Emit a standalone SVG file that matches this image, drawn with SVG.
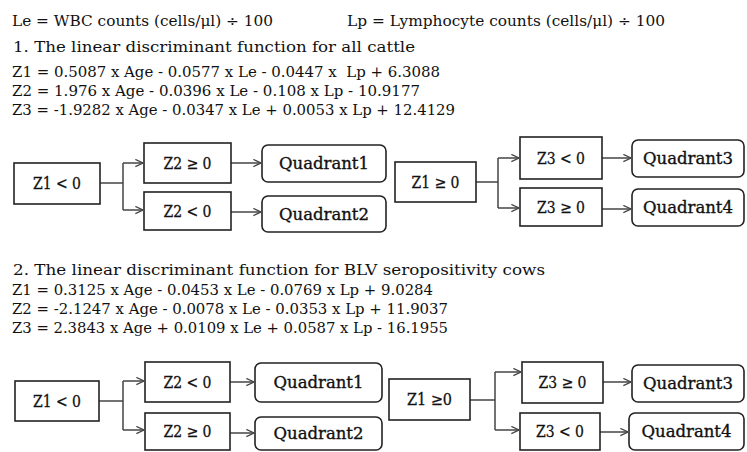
<svg xmlns="http://www.w3.org/2000/svg" width="747" height="452" viewBox="0 0 747 452">
<defs>
<marker id="arr" viewBox="0 0 10 10" refX="9.5" refY="5" markerWidth="9" markerHeight="9" markerUnits="userSpaceOnUse" orient="auto">
<path d="M1,1 L9.5,5 L1,9" fill="none" stroke="#444" stroke-width="1.4"/>
</marker>
</defs>
<style>
.t{font-family:"DejaVu Serif","Liberation Serif",serif;font-size:14.5px;fill:#111;white-space:pre}
.b{fill:#fff;stroke:#222;stroke-width:1.6}
.bl{font-family:"DejaVu Serif","Liberation Serif",serif;font-size:16px;fill:#111;stroke:#111;stroke-width:0.35;text-anchor:middle}
.z{font-family:"DejaVu Serif","Liberation Serif",serif;font-size:16px;fill:#111;stroke:#111;stroke-width:0.3;text-anchor:middle}
.c{fill:none;stroke:#444;stroke-width:1.5}
.a{fill:none;stroke:#444;stroke-width:1.5;marker-end:url(#arr)}
</style>
<rect width="747" height="452" fill="#fff"/>
<g id="texts">
<text class="t" x="12" y="26" textLength="261" lengthAdjust="spacingAndGlyphs">Le = WBC counts (cells/μl) ÷ 100</text>
<text class="t" x="347" y="26" textLength="318" lengthAdjust="spacingAndGlyphs">Lp = Lymphocyte counts (cells/μl) ÷ 100</text>
<text class="t" x="13" y="52" textLength="402" lengthAdjust="spacingAndGlyphs">1. The linear discriminant function for all cattle</text>
<text class="t" x="12" y="77" textLength="428" lengthAdjust="spacingAndGlyphs">Z1 = 0.5087 x Age - 0.0577 x Le - 0.0447 x  Lp + 6.3088</text>
<text class="t" x="12" y="96" textLength="408" lengthAdjust="spacingAndGlyphs">Z2 = 1.976 x Age - 0.0396 x Le - 0.108 x Lp - 10.9177</text>
<text class="t" x="12" y="115" textLength="443" lengthAdjust="spacingAndGlyphs">Z3 = -1.9282 x Age - 0.0347 x Le + 0.0053 x Lp + 12.4129</text>
<text class="t" x="13" y="275" textLength="532" lengthAdjust="spacingAndGlyphs">2. The linear discriminant function for BLV seropositivity cows</text>
<text class="t" x="12" y="295" textLength="421" lengthAdjust="spacingAndGlyphs">Z1 = 0.3125 x Age - 0.0453 x Le - 0.0769 x Lp + 9.0284</text>
<text class="t" x="12" y="314" textLength="436" lengthAdjust="spacingAndGlyphs">Z2 = -2.1247 x Age - 0.0078 x Le - 0.0353 x Lp + 11.9037</text>
<text class="t" x="12" y="333" textLength="436" lengthAdjust="spacingAndGlyphs">Z3 = 2.3843 x Age + 0.0109 x Le + 0.0587 x Lp - 16.1955</text>
</g>
<g id="connectors">
<path class="c" d="M100,183 H123 M123,163 V210"/>
<path class="a" d="M123,163 H143"/>
<path class="a" d="M123,210 H143"/>
<path class="a" d="M231,163 H261"/>
<path class="a" d="M231,212 H261"/>
<path class="c" d="M476,182 H498 M498,158 V208"/>
<path class="a" d="M498,158 H519"/>
<path class="a" d="M498,208 H519"/>
<path class="a" d="M602,158 H631"/>
<path class="a" d="M602,209 H631"/>
<path class="c" d="M99,401 H123 M123,381 V430"/>
<path class="a" d="M123,381 H144"/>
<path class="a" d="M123,430 H144"/>
<path class="a" d="M230,382 H254"/>
<path class="a" d="M230,433 H254"/>
<path class="c" d="M470,400 H495 M495,372 V430"/>
<path class="a" d="M495,372 H521"/>
<path class="a" d="M495,430 H519"/>
<path class="a" d="M603,382 H631"/>
<path class="a" d="M600,432 H628"/>
</g>
<g id="t_z1neg"><rect class="b" x="14" y="163" width="86" height="41"/><text class="z" x="57" y="189" textLength="48" lengthAdjust="spacingAndGlyphs">Z1 &lt; 0</text></g>
<g id="t_z2pos"><rect class="b" x="144" y="143" width="87" height="40"/><text class="z" x="187.5" y="169" textLength="48" lengthAdjust="spacingAndGlyphs">Z2 ≥ 0</text></g>
<g id="t_z2neg"><rect class="b" x="144" y="192" width="87" height="38"/><text class="z" x="187.5" y="217" textLength="48" lengthAdjust="spacingAndGlyphs">Z2 &lt; 0</text></g>
<g id="t_q1"><rect class="b" x="262" y="145" width="124" height="37" rx="6"/><text class="bl" x="324" y="169" textLength="90" lengthAdjust="spacingAndGlyphs">Quadrant1</text></g>
<g id="t_q2"><rect class="b" x="262" y="196" width="124" height="36" rx="6"/><text class="bl" x="324" y="220" textLength="90" lengthAdjust="spacingAndGlyphs">Quadrant2</text></g>
<g id="t_z1pos"><rect class="b" x="395" y="162" width="81" height="40"/><text class="z" x="435.5" y="188" textLength="48" lengthAdjust="spacingAndGlyphs">Z1 ≥ 0</text></g>
<g id="t_z3neg"><rect class="b" x="520" y="137" width="82" height="42"/><text class="z" x="561" y="164" textLength="48" lengthAdjust="spacingAndGlyphs">Z3 &lt; 0</text></g>
<g id="t_z3pos"><rect class="b" x="520" y="188" width="82" height="38"/><text class="z" x="561" y="213" textLength="48" lengthAdjust="spacingAndGlyphs">Z3 ≥ 0</text></g>
<g id="t_q3"><rect class="b" x="632" y="140" width="112" height="37" rx="6"/><text class="bl" x="688" y="164" textLength="90" lengthAdjust="spacingAndGlyphs">Quadrant3</text></g>
<g id="t_q4"><rect class="b" x="632" y="189" width="112" height="37" rx="6"/><text class="bl" x="688" y="213" textLength="90" lengthAdjust="spacingAndGlyphs">Quadrant4</text></g>
<g id="b_z1neg"><rect class="b" x="15" y="381" width="84" height="40"/><text class="z" x="57" y="407" textLength="48" lengthAdjust="spacingAndGlyphs">Z1 &lt; 0</text></g>
<g id="b_z2neg"><rect class="b" x="145" y="362" width="85" height="40"/><text class="z" x="187.5" y="388" textLength="48" lengthAdjust="spacingAndGlyphs">Z2 &lt; 0</text></g>
<g id="b_z2pos"><rect class="b" x="145" y="413" width="85" height="37"/><text class="z" x="187.5" y="437" textLength="48" lengthAdjust="spacingAndGlyphs">Z2 ≥ 0</text></g>
<g id="b_q1"><rect class="b" x="255" y="363" width="127" height="39" rx="6"/><text class="bl" x="318.5" y="388" textLength="90" lengthAdjust="spacingAndGlyphs">Quadrant1</text></g>
<g id="b_q2"><rect class="b" x="255" y="417" width="127" height="33" rx="6"/><text class="bl" x="318.5" y="439" textLength="90" lengthAdjust="spacingAndGlyphs">Quadrant2</text></g>
<g id="b_z1pos"><rect class="b" x="389" y="379" width="81" height="41"/><text class="z" x="429.5" y="405" textLength="45" lengthAdjust="spacingAndGlyphs">Z1 ≥0</text></g>
<g id="b_z3pos"><rect class="b" x="522" y="362" width="81" height="41"/><text class="z" x="562.5" y="388" textLength="48" lengthAdjust="spacingAndGlyphs">Z3 ≥ 0</text></g>
<g id="b_z3neg"><rect class="b" x="520" y="413" width="80" height="37"/><text class="z" x="560" y="437" textLength="48" lengthAdjust="spacingAndGlyphs">Z3 &lt; 0</text></g>
<g id="b_q3"><rect class="b" x="632" y="365" width="112" height="37" rx="6"/><text class="bl" x="688" y="389" textLength="90" lengthAdjust="spacingAndGlyphs">Quadrant3</text></g>
<g id="b_q4"><rect class="b" x="629" y="413" width="115" height="37" rx="6"/><text class="bl" x="686.5" y="437" textLength="90" lengthAdjust="spacingAndGlyphs">Quadrant4</text></g>
</svg>
